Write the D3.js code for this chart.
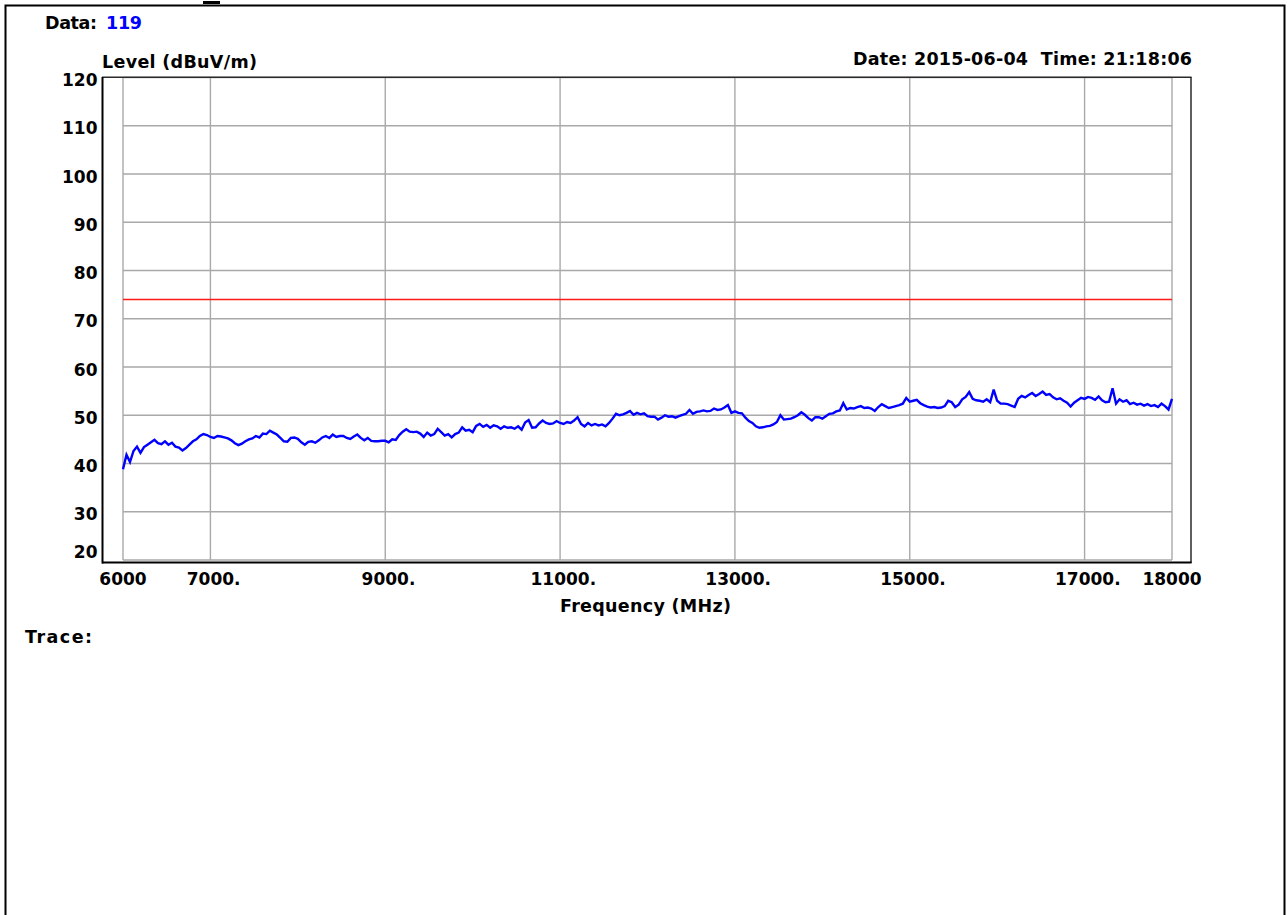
<!DOCTYPE html>
<html><head><meta charset="utf-8">
<script src="https://cdn.jsdelivr.net/npm/d3@7"></script>
<style>html,body{margin:0;padding:0;background:#fff;overflow:hidden}svg{display:block}text{white-space:pre}</style>
</head><body>
<svg id="c" width="1288" height="915"></svg>
<script>
// ---- data ----
const freqStart = 6000;   // MHz, first sweep point
const freqStep = 40;      // MHz between sweep points
const levels = [
 38.8,41.8,40.3,42.6,43.5,42.2,43.4,43.9,44.4,44.9,
 44.2,44.0,44.6,43.9,44.3,43.5,43.3,42.7,43.2,43.9,
 44.6,45.0,45.7,46.1,45.9,45.5,45.3,45.7,45.6,45.4,
 45.2,44.8,44.2,43.8,44.1,44.6,45.0,45.2,45.7,45.4,
 46.2,46.1,46.8,46.4,46.0,45.3,44.6,44.5,45.3,45.4,
 45.1,44.4,43.9,44.5,44.6,44.3,44.8,45.4,45.7,45.3,
 46.0,45.5,45.7,45.7,45.3,45.1,45.6,46.0,45.3,44.8,
 45.3,44.7,44.6,44.6,44.7,
 44.7,44.4,45.0,44.9,45.9,46.6,47.1,46.6,46.5,46.6,
 46.2,45.5,46.4,45.8,46.1,47.2,46.5,45.8,46.1,45.4,
 46.1,46.4,47.5,46.8,47.0,46.5,47.8,48.2,47.6,48.0,
 47.4,47.9,47.7,47.2,47.7,47.4,47.5,47.2,47.7,47.0,
 48.5,49.0,47.4,47.5,48.3,48.9,48.4,48.2,48.3,48.8,
 48.4,48.2,48.6,48.4,48.9,49.6,48.2,47.7,48.4,47.9,
 48.2,47.9,48.1,47.7,48.4,49.3,50.3,50.0,50.2,50.5,
 50.9,50.1,50.5,50.2,50.4,49.8,
 49.7,49.7,49.1,49.5,50.0,49.7,49.8,49.5,49.8,50.1,
 50.3,51.1,50.3,50.7,50.8,51.0,50.8,50.9,51.4,51.1,
 51.2,51.6,52.1,50.5,50.8,50.5,50.4,49.5,48.8,48.4,
 47.7,47.4,47.5,47.7,47.8,48.1,48.6,50.0,49.1,49.2,
 49.3,49.6,50.0,50.6,50.1,49.4,48.9,49.6,49.6,49.3,
 49.8,50.3,50.4,50.8,51.0,52.5,51.2,51.5,51.4,51.7,
 51.9,51.5,51.6,51.4,50.9,51.7,52.3,51.9,51.5,51.7,
 51.9,52.1,52.4,53.6,52.8,
 53.0,53.2,52.5,52.1,51.8,51.6,51.7,51.5,51.6,51.9,
 53.0,52.7,51.7,52.2,53.3,53.8,54.8,53.4,53.1,53.0,
 52.8,53.3,52.7,55.3,53.0,52.4,52.4,52.3,52.0,51.7,
 53.4,54.0,53.7,54.2,54.6,54.0,54.4,54.9,54.2,54.4,
 53.7,53.3,53.5,53.0,52.6,51.8,52.6,53.1,53.6,53.4,
 53.8,53.6,53.2,53.9,53.1,52.7,52.8,55.6,52.4,53.3,
 52.8,53.1,52.3,52.6,52.2,52.4,52.0,52.3,51.9,52.1,
 51.7,52.4,51.9,51.2,53.4
];
const limitLevel = 74;
const yTicks = [20,30,40,50,60,70,80,90,100,110,120];
const xTicks = [6000,7000,9000,11000,13000,15000,17000,18000];
const xTickLabels = ["6000","7000.","9000.","11000.","13000.","15000.","17000.","18000"];
const dataLabel = "Data:";
const dataNumber = "119";
const yTitle = "Level (dBuV/m)";
const xTitle = "Frequency (MHz)";
const dateText = "Date: 2015-06-04  Time: 21:18:06";
const traceLabel = "Trace:";

// ---- drawing ----
const svg = d3.select("#c");
const FONT = "'DejaVu Sans', 'Liberation Sans', Arial, sans-serif";
const x = d3.scaleLinear().domain([6000, 18000]).range([123, 1172]);
const y = d3.scaleLinear().domain([20, 120]).range([560, 77.5]);

// outer page border
svg.append("path").attr("d", "M5.5,915 V5.5 H1284.5 V915")
  .attr("fill", "none").attr("stroke", "#000").attr("stroke-width", 2);
svg.append("rect").attr("x", 203).attr("y", 1).attr("width", 17).attr("height", 3).attr("fill", "#000");

// grid
const grid = svg.append("g").attr("stroke", "#a9a9a9").attr("stroke-width", 1.4);
grid.selectAll("line.h").data(yTicks).join("line").attr("class", "h")
  .attr("x1", x(6000)).attr("x2", x(18000)).attr("y1", d => y(d)).attr("y2", d => y(d));
grid.selectAll("line.v").data(xTicks).join("line").attr("class", "v")
  .attr("x1", d => x(d)).attr("x2", d => x(d)).attr("y1", y(120)).attr("y2", y(20));

// frame
svg.append("line").attr("x1", 102).attr("x2", 1191.5).attr("y1", 77.3).attr("y2", 77.3).attr("stroke", "#2a2a2a").attr("stroke-width", 1.5);
svg.append("line").attr("x1", 1191).attr("x2", 1191).attr("y1", 77).attr("y2", 563).attr("stroke", "#2a2a2a").attr("stroke-width", 1.5);
svg.append("line").attr("x1", 102.5).attr("x2", 102.5).attr("y1", 77).attr("y2", 563.5).attr("stroke", "#000").attr("stroke-width", 2);
svg.append("line").attr("x1", 102).attr("x2", 1191.5).attr("y1", 562.5).attr("y2", 562.5).attr("stroke", "#000").attr("stroke-width", 2);

// limit line
svg.append("line").attr("x1", x(6000)).attr("x2", x(18000))
  .attr("y1", y(limitLevel)).attr("y2", y(limitLevel))
  .attr("stroke", "#ff1a1a").attr("stroke-width", 1.6);

// trace
const pts = levels.map((v, i) => [freqStart + i * freqStep, v]);
svg.append("path").datum(pts)
  .attr("fill", "none").attr("stroke", "#0000ff").attr("stroke-width", 2.4)
  .attr("stroke-linejoin", "miter").attr("stroke-miterlimit", 3)
  .attr("d", d3.line().x(d => x(d[0])).y(d => y(d[1])));

// text helpers
function txt(s, px, py, opts = {}) {
  const t = svg.append("text").attr("x", px).attr("y", py)
    .attr("font-family", FONT).attr("font-weight", "bold").attr("font-size", opts.size || 17.5)
    .attr("fill", opts.fill || "#000").text(s);
  if (opts.len) t.attr("textLength", opts.len).attr("lengthAdjust", "spacing");
  if (opts.anchor) t.attr("text-anchor", opts.anchor);
  return t;
}

// y tick labels
yTicks.forEach(v => {
  let base = y(v) + 8.5;
  if (v === 20) base = 558;
  txt(String(v), 97.5, base, { anchor: "end", size: 17 });
});

// x tick labels (number centred on its grid line, trailing "." hanging)
xTicks.forEach((v, i) => {
  const lab = xTickLabels[i];
  const n = lab.replace(".", "").length;
  const t = txt(lab, 0, 585, { size: 17 });
  const w = t.node().getSubStringLength(0, n);
  t.attr("x", x(v) - w / 2);
});

txt(dataLabel, 45, 29, { len: 52 });
txt(dataNumber, 106, 29, { len: 36, fill: "#0000ff" });
txt(yTitle, 102, 68, { len: 155 });
txt(dateText, 853, 65, { len: 339 });
txt(xTitle, 560, 612, { len: 171 });
txt(traceLabel, 25, 643, { len: 67 });
</script>
</body></html>
